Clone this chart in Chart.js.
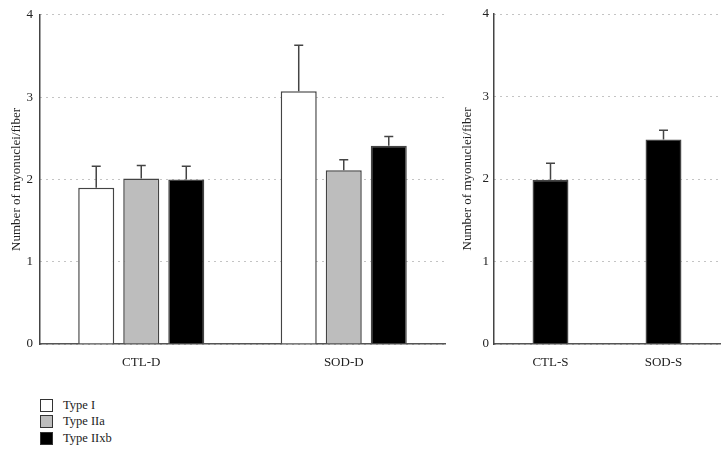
<!DOCTYPE html>
<html>
<head>
<meta charset="utf-8">
<script src="https://cdn.jsdelivr.net/npm/chart.js@4"></script>
<style>
  body { margin: 0; background: #fff; width: 728px; height: 452px; position: relative; overflow: hidden; }
  #left { position: absolute; left: 0; top: 0; width: 450px; height: 370px; }
  #right { position: absolute; left: 450px; top: 0; width: 278px; height: 370px; }
  #legend { position: absolute; left: 40px; top: 397px; font-family: "Liberation Serif", serif; font-size: 12.5px; color: #222; }
  #legend div { height: 16.5px; display: flex; align-items: center; }
  #legend span.box { display: inline-block; width: 11px; height: 11px; border: 1px solid #333; margin-right: 10px; }
</style>
</head>
<body>
<div id="left"><canvas id="chartD"></canvas></div>
<div id="right"><canvas id="chartS"></canvas></div>
<div id="legend"></div>
<script>
// panel D: three fibre types per group
const groupsD = ['CTL-D', 'SOD-D'];
const typeI = [1.90, 3.07];
const typeIErr = [0.26, 0.56];
const typeIIa = [2.01, 2.11];
const typeIIaErr = [0.16, 0.13];
const typeIIxb = [2.00, 2.41];
const typeIIxbErr = [0.16, 0.11];

// panel S
const groupsS = ['CTL-S', 'SOD-S'];
const valuesS = [1.99, 2.48];
const valuesSErr = [0.20, 0.11];

const typeLabels = ['Type I', 'Type IIa', 'Type IIxb'];
const typeColors = ['#ffffff', '#bdbdbd', '#000000'];

const serif = "'Liberation Serif', 'DejaVu Serif', serif";
const yTitle = 'Number of myonuclei/fiber';

// draws the upper half of an error bar on top of each bar
const errorBars = {
  id: 'errorBars',
  afterDatasetsDraw(chart) {
    const ctx = chart.ctx;
    const yScale = chart.scales.y;
    chart.data.datasets.forEach((ds, i) => {
      const meta = chart.getDatasetMeta(i);
      meta.data.forEach((bar, j) => {
        const top = yScale.getPixelForValue(ds.data[j] + ds.errors[j]);
        ctx.save();
        ctx.strokeStyle = '#444';
        ctx.lineWidth = 1.5;
        ctx.beginPath();
        ctx.moveTo(bar.x, bar.y);
        ctx.lineTo(bar.x, top);
        ctx.moveTo(bar.x - 4.5, top);
        ctx.lineTo(bar.x + 4.5, top);
        ctx.stroke();
        ctx.restore();
      });
    });
  }
};

function panelOptions(yWidth, padRight, titlePad, tickPad) {
  return {
    responsive: true,
    maintainAspectRatio: false,
    animation: false,
    layout: { padding: { top: 14, right: padRight, left: 0, bottom: 0 } },
    plugins: { legend: { display: false }, tooltip: { enabled: false } },
    scales: {
      x: {
        grid: { display: false },
        border: { display: true, color: '#555', width: 1.5 },
        ticks: { color: '#222', font: { family: serif, size: 13 }, padding: 3 },
        afterFit: s => { s.height = 26; }
      },
      y: {
        min: 0,
        max: 4,
        ticks: { stepSize: 1, color: '#222', font: { family: serif, size: 13 }, padding: tickPad },
        grid: { color: '#888', lineWidth: 1, drawTicks: false },
        border: { display: true, color: '#444', width: 1.5, dash: [1, 5] },
        title: { display: true, text: yTitle, color: '#222', font: { family: serif, size: 13 }, padding: { top: titlePad, bottom: 0 } },
        afterFit: s => { s.width = yWidth; }
      }
    }
  };
}

new Chart(document.getElementById('chartD'), {
  type: 'bar',
  plugins: [errorBars],
  data: {
    labels: groupsD,
    datasets: [
      { label: typeLabels[0], data: typeI, errors: typeIErr },
      { label: typeLabels[1], data: typeIIa, errors: typeIIaErr },
      { label: typeLabels[2], data: typeIIxb, errors: typeIIxbErr }
    ].map((ds, i) => Object.assign(ds, {
      backgroundColor: typeColors[i],
      borderColor: '#444',
      borderWidth: 1.5,
      categoryPercentage: 0.667,
      barPercentage: 0.8
    }))
  },
  options: panelOptions(40, 5, 9, 7)
});

new Chart(document.getElementById('chartS'), {
  type: 'bar',
  plugins: [errorBars],
  data: {
    labels: groupsS,
    datasets: [{
      label: 'Type IIxb',
      data: valuesS,
      errors: valuesSErr,
      backgroundColor: '#000',
      borderColor: '#444',
      borderWidth: 1.5,
      categoryPercentage: 0.318,
      barPercentage: 1
    }]
  },
  options: panelOptions(44, 8, 10, 5)
});

const legend = document.getElementById('legend');
typeLabels.forEach((t, i) => {
  const row = document.createElement('div');
  row.innerHTML = '<span class="box" style="background:' + typeColors[i] + '"></span>' + t;
  legend.appendChild(row);
});
</script>
</body>
</html>
